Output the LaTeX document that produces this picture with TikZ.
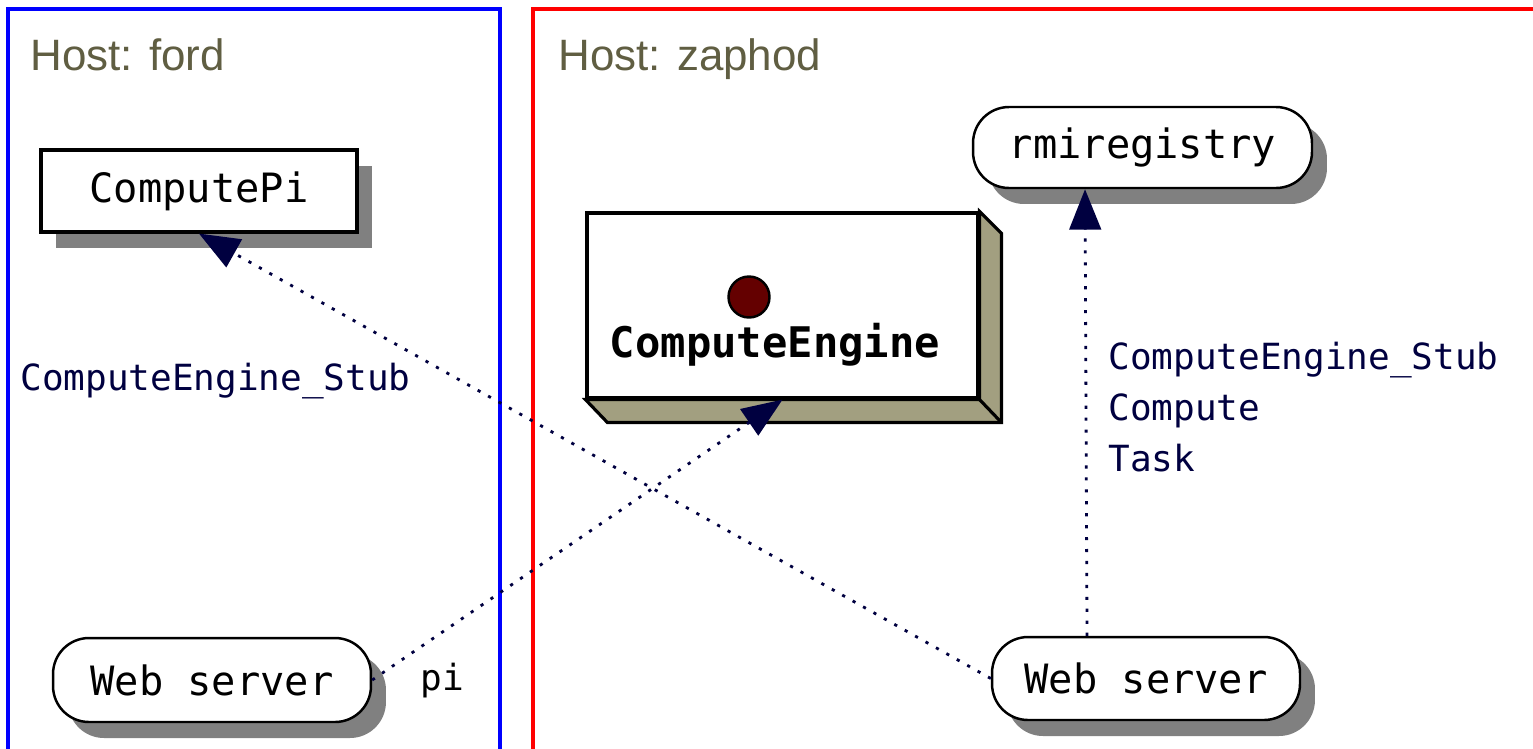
\documentclass[tikz,border=0pt]{standalone}
\usepackage{fontspec}
\setmainfont{DejaVu Sans Mono}
\newfontfamily\hostfont{Liberation Sans}
\usetikzlibrary{arrows.meta,shadows}
\definecolor{navy}{RGB}{0,0,64}
\definecolor{hostcol}{RGB}{96,94,66}
\definecolor{khaki}{RGB}{162,159,128}
\definecolor{dotred}{RGB}{100,0,0}
\definecolor{shadowgray}{RGB}{128,128,128}
\begin{document}
\begin{tikzpicture}[x=0.02cm,y=-0.02cm,
 box/.style={draw=black, line width=1.8pt, fill=white, inner sep=0pt, font=\fontsize{23}{27}\selectfont},
 shad/.style={drop shadow={shadow xshift=0.3cm, shadow yshift=-0.32cm, fill=shadowgray, opacity=1, draw=none}},
 pill/.style={box, rounded corners=0.72cm, line width=1.4pt},
 conn/.style={draw=navy, line width=1.6pt, dash pattern=on 1.8pt off 5pt, -{Triangle[length=23pt,width=18pt,fill=navy]}},
 hostlbl/.style={font=\hostfont\fontsize{25}{28}\selectfont, text=hostcol, anchor=base west, inner sep=0pt},
 lbl/.style={font=\fontsize{20.5}{29}\selectfont, text=navy, inner sep=0pt, anchor=base west},
]
\useasboundingbox (0,0) rectangle (1533,748);
\clip (0,0) rectangle (1533,748);
\fill[white] (0,0) rectangle (1533,748);
% hosts
\draw[blue, line width=1.8pt] (8,760) -- (8,9) -- (500,9) -- (500,760);
\draw[red, line width=1.8pt] (533,760) -- (533,9) -- (1545,9);
\node[hostlbl] (hford) at (30,70) {Host: ford};
\node[hostlbl] (hzap) at (558,70) {Host: zaphod};
% nodes
\node[box, shad, minimum width=6.32cm, minimum height=1.64cm, text width=6.1cm, align=center] (cp) at (199,191) {ComputePi\hspace*{0.35cm}};
\node[box, minimum width=7.82cm, minimum height=3.7cm] (ce) at (782.5,305.5) {};
\filldraw[fill=khaki, line width=1.8pt, line join=miter] (ce.north east) -- ++(22,22) -- ([shift={(22,23)}]ce.south east) -- ([shift={(22,23)}]ce.south west) -- (ce.south west) -- (ce.south east) -- cycle;
\draw[line width=1.8pt] (ce.south east) -- ++(22,23);
\node[circle, draw=black, fill=dotred, line width=1.4pt, minimum size=0.82cm, inner sep=0pt] (dot) at (749,297) {};
\node[font=\bfseries\fontsize{24}{28}\selectfont, inner sep=0pt, anchor=base] (celbl) at (775,357) {ComputeEngine};
\node[pill, shad, minimum width=6.78cm, minimum height=1.62cm] (rmi) at (1142.5,147.5) {rmiregistry};
\node[pill, shad, minimum width=6.36cm, minimum height=1.68cm] (ws1) at (212,680) {Web server};
\node[pill, shad, minimum width=6.16cm, minimum height=1.66cm] (ws2) at (1146,678.5) {Web server};
% connectors
\draw[conn] (ws2.west) -- (cp.south);
\draw[conn] (ws1.east) -- (ce.south);
\draw[conn] ([xshift=-1.18cm]ws2.north) -- ([xshift=-1.15cm]rmi.south);
% labels
\node[lbl] (stubL) at (20,390) {ComputeEngine\_Stub};
\node[lbl] (stubR) at (1108,369) {ComputeEngine\_Stub};
\node[lbl] (compR) at (1108,420) {Compute};
\node[lbl] (taskR) at (1108,471) {Task};
\node[font=\fontsize{20.5}{29}\selectfont, inner sep=0pt, anchor=base] (pi) at (442,690) {pi};
\end{tikzpicture}
\end{document}
